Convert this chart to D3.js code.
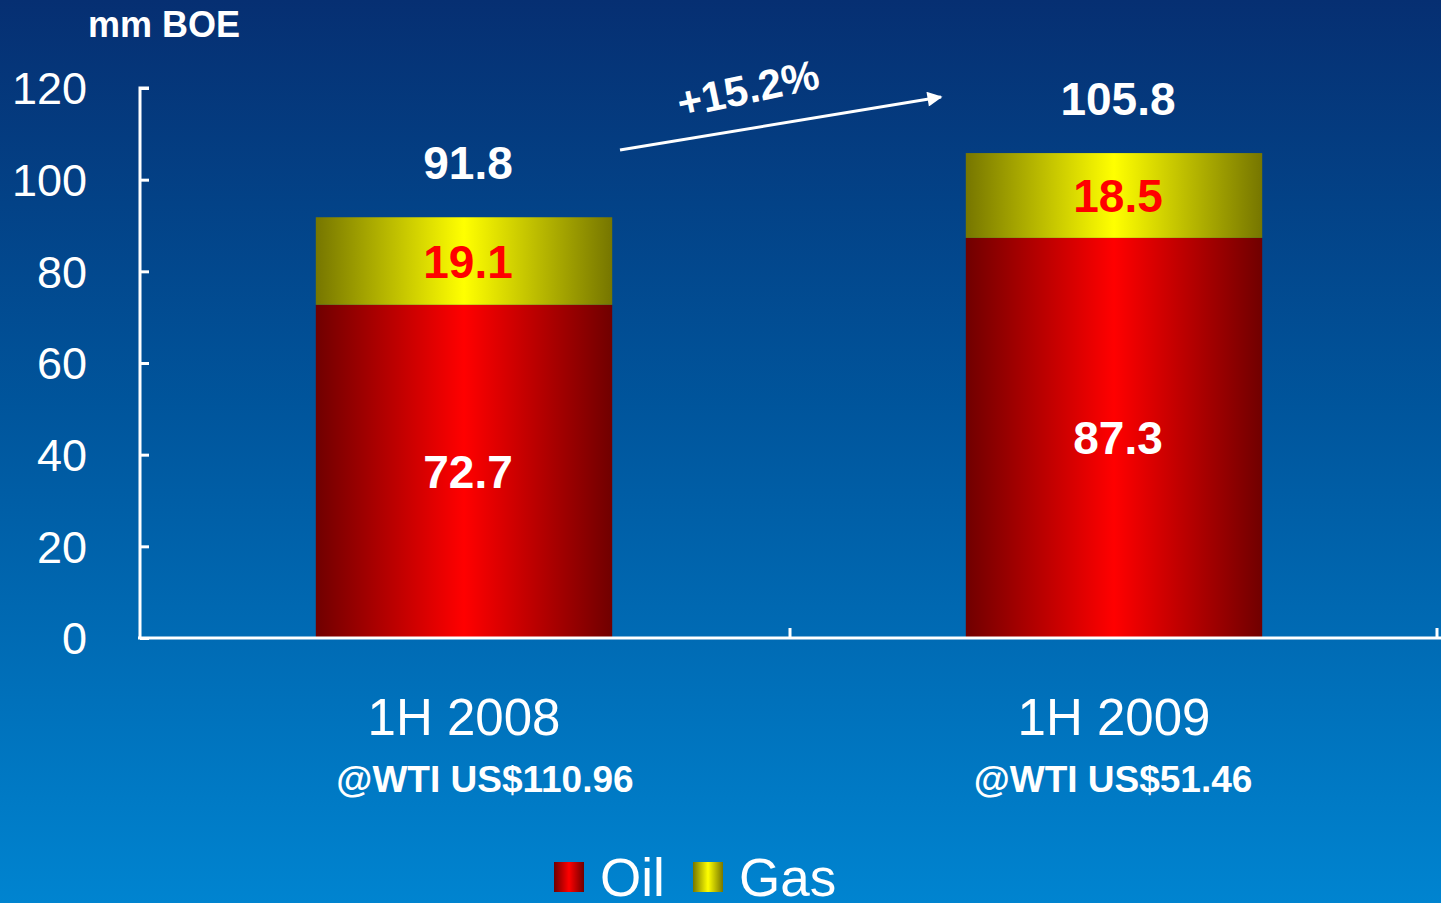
<!DOCTYPE html>
<html>
<head>
<meta charset="utf-8">
<script src="https://cdn.jsdelivr.net/npm/d3@7"></script>
<style>
  html, body { margin: 0; padding: 0; background: #0060a8; }
  svg { display: block; font-family: "Liberation Sans", Arial, sans-serif; }
</style>
</head>
<body>
<div id="chart"></div>
<script>
// data
const periods = ["1H 2008", "1H 2009"];
const wtiLabels = ["@WTI US$110.96", "@WTI US$51.46"];
const oil = [72.7, 87.3];
const gas = [19.1, 18.5];
const totals = [91.8, 105.8];
const yTicks = [0, 20, 40, 60, 80, 100, 120];
const growthLabel = "+15.2%";

const W = 1441, H = 903;
const margin = {top: 88, right: 1, bottom: 265, left: 140};

let svg = d3.select("#chart").append("svg")
    .attr("width", W)
    .attr("height", H);

let defs = svg.append("defs");

// background: dark navy at top to bright blue at bottom
let bg = defs.append("linearGradient").attr("id", "bg")
    .attr("x1", 0).attr("y1", 0).attr("x2", 0).attr("y2", 1);
bg.append("stop").attr("offset", "0%").attr("stop-color", "#062f72");
bg.append("stop").attr("offset", "45%").attr("stop-color", "#00559c");
bg.append("stop").attr("offset", "100%").attr("stop-color", "#0084d0");

// horizontal "cylinder" shading for bars
function shade(id, edge, mid) {
    let g = defs.append("linearGradient").attr("id", id)
        .attr("x1", 0).attr("y1", 0).attr("x2", 1).attr("y2", 0);
    g.append("stop").attr("offset", "0%").attr("stop-color", edge);
    g.append("stop").attr("offset", "50%").attr("stop-color", mid);
    g.append("stop").attr("offset", "100%").attr("stop-color", edge);
}
shade("oilGrad", "#700000", "#ff0000");
shade("gasGrad", "#767600", "#ffff00");

svg.append("rect").attr("width", W).attr("height", H).attr("fill", "url(#bg)");

let x = d3.scaleBand()
    .domain(periods)
    .range([margin.left, W - margin.right])
    .padding(0);

let y = d3.scaleLinear()
    .domain([0, 120])
    .range([H - margin.bottom, margin.top]);

let barW = x.bandwidth() * 0.456;
let barX = d => x(d) + (x.bandwidth() - barW) / 2 - 1;
let mid = i => x(periods[i]) + x.bandwidth() / 2 + 3;

// bars
let bars = svg.append("g");
bars.selectAll(".oil")
    .data(periods)
    .join("rect")
        .attr("x", d => barX(d))
        .attr("width", barW)
        .attr("y", (d, i) => y(oil[i]))
        .attr("height", (d, i) => y(0) - y(oil[i]))
        .attr("fill", "url(#oilGrad)");
bars.selectAll(".gas")
    .data(periods)
    .join("rect")
        .attr("x", d => barX(d))
        .attr("width", barW)
        .attr("y", (d, i) => y(oil[i] + gas[i]))
        .attr("height", (d, i) => y(oil[i]) - y(oil[i] + gas[i]))
        .attr("fill", "url(#gasGrad)");

// y axis
let yAxis = svg.append("g")
    .attr("transform", `translate(${margin.left},0)`)
    .call(d3.axisRight(y).tickValues(yTicks).tickSize(9).tickFormat(""));
yAxis.select(".domain").attr("stroke", "#fff").attr("stroke-width", 3)
    .attr("d", `M9,${y(120)}H0V${y(0)}`);
yAxis.selectAll(".tick line").attr("stroke", "#fff").attr("stroke-width", 3);

svg.append("g").selectAll("text")
    .data(yTicks)
    .join("text")
        .attr("x", 87)
        .attr("y", d => y(d))
        .attr("dy", "0.36em")
        .attr("text-anchor", "end")
        .attr("fill", "#fff")
        .style("font-size", "45px")
        .text(d => d);

// x axis with ticks at band boundaries
let xAxis = svg.append("g");
xAxis.append("line")
    .attr("x1", margin.left - 2).attr("x2", W)
    .attr("y1", y(0)).attr("y2", y(0))
    .attr("stroke", "#fff").attr("stroke-width", 3);
xAxis.selectAll(".xt")
    .data(periods)
    .join("line")
        .attr("x1", d => x(d) + x.bandwidth() - (d === periods[periods.length - 1] ? 3 : 0))
        .attr("x2", d => x(d) + x.bandwidth() - (d === periods[periods.length - 1] ? 3 : 0))
        .attr("y1", y(0)).attr("y2", y(0) - 10)
        .attr("stroke", "#fff").attr("stroke-width", 3);

// category labels
svg.append("g").selectAll("text")
    .data(periods)
    .join("text")
        .attr("x", d => x(d) + x.bandwidth() / 2 - 1)
        .attr("y", 735)
        .attr("text-anchor", "middle")
        .attr("fill", "#fff")
        .style("font-size", "51px")
        .text(d => d);
svg.append("g").selectAll("text")
    .data(wtiLabels)
    .join("text")
        .attr("x", (d, i) => x(periods[i]) + x.bandwidth() / 2 + (i === 0 ? 20 : -2))
        .attr("y", 792)
        .attr("text-anchor", "middle")
        .attr("fill", "#fff")
        .style("font-size", "37px")
        .style("font-weight", "bold")
        .text(d => d);

// value labels
let vals = svg.append("g")
    .attr("text-anchor", "middle")
    .style("font-weight", "bold")
    .style("font-size", "46px");
vals.selectAll(".tot")
    .data(totals)
    .join("text")
        .attr("x", (d, i) => mid(i))
        .attr("y", d => y(d) - 38)
        .attr("fill", "#fff")
        .text(d => d.toFixed(1));
vals.selectAll(".gasv")
    .data(gas)
    .join("text")
        .attr("x", (d, i) => mid(i))
        .attr("y", (d, i) => y(oil[i] + d / 2))
        .attr("dy", "0.36em")
        .attr("fill", "#ff0000")
        .text(d => d.toFixed(1));
vals.selectAll(".oilv")
    .data(oil)
    .join("text")
        .attr("x", (d, i) => mid(i))
        .attr("y", d => y(d / 2))
        .attr("dy", "0.36em")
        .attr("fill", "#fff")
        .text(d => d.toFixed(1));

// unit label
svg.append("text")
    .attr("x", 88).attr("y", 37)
    .attr("fill", "#fff")
    .style("font-size", "36px")
    .style("font-weight", "bold")
    .text("mm BOE");

// growth arrow
defs.append("marker")
    .attr("id", "head")
    .attr("viewBox", "0 0 10 10")
    .attr("refX", 9).attr("refY", 5)
    .attr("markerWidth", 6).attr("markerHeight", 5)
    .attr("markerUnits", "strokeWidth")
    .attr("orient", "auto")
  .append("path")
    .attr("d", "M0,0L10,5L0,10Z")
    .attr("fill", "#fff");
svg.append("line")
    .attr("x1", 620).attr("y1", 150)
    .attr("x2", 941).attr("y2", 97)
    .attr("stroke", "#fff").attr("stroke-width", 3)
    .attr("marker-end", "url(#head)");
svg.append("text")
    .attr("transform", "translate(751,103) rotate(-12)")
    .attr("text-anchor", "middle")
    .attr("fill", "#fff")
    .style("font-size", "42px")
    .style("font-weight", "bold")
    .text(growthLabel);

// legend
let legendItems = [
    {name: "Oil", fill: "url(#oilGrad)", x: 554},
    {name: "Gas", fill: "url(#gasGrad)", x: 693}
];
let lg = svg.append("g").selectAll("g")
    .data(legendItems)
    .join("g")
        .attr("transform", d => `translate(${d.x},862)`);
lg.append("rect").attr("width", 30).attr("height", 30).attr("fill", d => d.fill);
lg.append("text")
    .attr("x", 46).attr("y", 34)
    .attr("fill", "#fff")
    .style("font-size", "53px")
    .text(d => d.name);
</script>
</body>
</html>
